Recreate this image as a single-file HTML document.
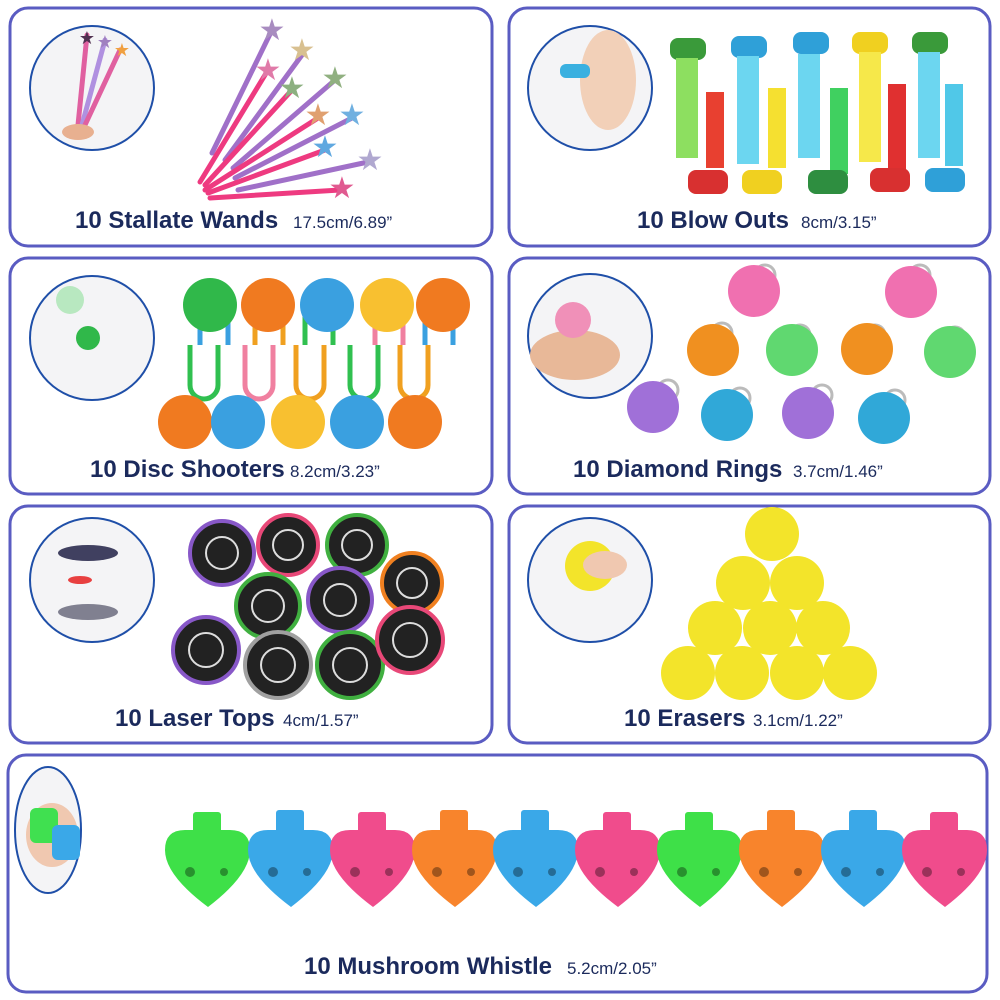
<!DOCTYPE html>
<html><head><style>
html,body{margin:0;padding:0;background:#fff;width:1000px;height:1000px;overflow:hidden}
svg{display:block}
.t{font-family:"Liberation Sans",sans-serif;font-weight:bold;fill:#1b2a5c;font-size:24px}
.s{font-family:"Liberation Sans",sans-serif;fill:#1b2a5c;font-size:17px}
</style></head><body>
<svg width="1000" height="1000" viewBox="0 0 1000 1000">
<g fill="#fff" stroke="#5a5cc2" stroke-width="3">
<rect x="10" y="8" width="482" height="238" rx="18"/>
<rect x="509" y="8" width="481" height="238" rx="18"/>
<rect x="10" y="258" width="482" height="236" rx="18"/>
<rect x="509" y="258" width="481" height="236" rx="18"/>
<rect x="10" y="506" width="482" height="237" rx="18"/>
<rect x="509" y="506" width="481" height="237" rx="18"/>
<rect x="8" y="755" width="979" height="237" rx="18"/>
</g>
<g fill="#f4f4f6" stroke="#1f4fa8" stroke-width="2">
<circle cx="92" cy="88" r="62"/>
<circle cx="590" cy="88" r="62"/>
<circle cx="92" cy="338" r="62"/>
<circle cx="590" cy="336" r="62"/>
<circle cx="92" cy="580" r="62"/>
<circle cx="590" cy="580" r="62"/>
<ellipse cx="48" cy="830" rx="33" ry="63"/>
</g>
<!-- wands -->
<g stroke-width="5" stroke-linecap="round">
<line x1="212" y1="153" x2="272" y2="30" stroke="#a070c8"/>
<line x1="200" y1="182" x2="268" y2="70" stroke="#ee3a80"/>
<line x1="225" y1="160" x2="302" y2="55" stroke="#a070c8"/>
<line x1="205" y1="185" x2="292" y2="90" stroke="#ee3a80"/>
<line x1="233" y1="168" x2="335" y2="80" stroke="#a070c8"/>
<line x1="205" y1="190" x2="318" y2="118" stroke="#ee3a80"/>
<line x1="235" y1="178" x2="352" y2="118" stroke="#a070c8"/>
<line x1="208" y1="193" x2="325" y2="150" stroke="#ee3a80"/>
<line x1="238" y1="190" x2="368" y2="162" stroke="#a070c8"/>
<line x1="210" y1="198" x2="340" y2="190" stroke="#ee3a80"/>
<line x1="78" y1="125" x2="87" y2="35" stroke="#e060a0"/>
<line x1="82" y1="125" x2="105" y2="40" stroke="#b090e0"/>
<line x1="85" y1="125" x2="120" y2="50" stroke="#e060a0"/>
</g>
<g font-size="30" text-anchor="middle" font-family="DejaVu Sans">
<text x="272" y="40" fill="#a88cc0">★</text><text x="302" y="60" fill="#d8c090">★</text>
<text x="268" y="80" fill="#e07aa8">★</text><text x="292" y="98" fill="#8cb080">★</text>
<text x="335" y="88" fill="#90b080">★</text><text x="318" y="125" fill="#e0a070">★</text>
<text x="352" y="125" fill="#70b0e0">★</text><text x="325" y="157" fill="#60a8e0">★</text>
<text x="370" y="170" fill="#b0a8d0">★</text><text x="342" y="198" fill="#e05a90">★</text>
<text x="87" y="44" font-size="18" fill="#503050">★</text><text x="105" y="48" font-size="18" fill="#a080c0">★</text><text x="122" y="56" font-size="18" fill="#f0a040">★</text>
</g>
<ellipse cx="78" cy="132" rx="16" ry="8" fill="#e8b090"/>
<text class="t" x="75" y="228">10 Stallate Wands</text><text class="s" x="293" y="228">17.5cm/6.89”</text>
<!-- blow outs -->
<g>
<rect x="670" y="38" width="36" height="22" rx="8" fill="#3a9a3a"/><rect x="731" y="36" width="36" height="22" rx="8" fill="#2fa0d8"/>
<rect x="793" y="32" width="36" height="22" rx="8" fill="#2fa0d8"/><rect x="852" y="32" width="36" height="22" rx="8" fill="#f0d020"/><rect x="912" y="32" width="36" height="22" rx="8" fill="#3a9a3a"/>
<rect x="676" y="58" width="22" height="100" fill="#8ddf60"/><rect x="737" y="56" width="22" height="108" fill="#6cd6f0"/>
<rect x="798" y="54" width="22" height="104" fill="#6cd6f0"/><rect x="859" y="52" width="22" height="110" fill="#f6e84a"/><rect x="918" y="52" width="22" height="106" fill="#6cd6f0"/>
<rect x="706" y="92" width="18" height="76" fill="#e84030"/><rect x="768" y="88" width="18" height="80" fill="#f5e030"/><rect x="830" y="88" width="18" height="86" fill="#40d060"/><rect x="888" y="84" width="18" height="86" fill="#e03030"/><rect x="945" y="84" width="18" height="82" fill="#50c8e8"/>
<rect x="688" y="170" width="40" height="24" rx="8" fill="#d83030"/><rect x="742" y="170" width="40" height="24" rx="8" fill="#f0d020"/><rect x="808" y="170" width="40" height="24" rx="8" fill="#2e8e40"/><rect x="870" y="168" width="40" height="24" rx="8" fill="#d83030"/><rect x="925" y="168" width="40" height="24" rx="8" fill="#2fa0d8"/>
<ellipse cx="608" cy="80" rx="28" ry="50" fill="#f2d0b8"/><rect x="560" y="64" width="30" height="14" rx="6" fill="#3ab0e0"/>
</g>
<text class="t" x="637" y="228">10 Blow Outs</text><text class="s" x="801" y="228">8cm/3.15”</text>
<!-- discs -->
<g>
<path d="M200 345 v-35 a14 14 0 0 1 28 0 v35" fill="none" stroke="#3aa0e0" stroke-width="5"/>
<path d="M255 345 v-35 a14 14 0 0 1 28 0 v35" fill="none" stroke="#f0a020" stroke-width="5"/>
<path d="M305 345 v-35 a14 14 0 0 1 28 0 v35" fill="none" stroke="#30c050" stroke-width="5"/>
<path d="M375 345 v-35 a14 14 0 0 1 28 0 v35" fill="none" stroke="#f080a0" stroke-width="5"/>
<path d="M425 345 v-35 a14 14 0 0 1 28 0 v35" fill="none" stroke="#3aa0e0" stroke-width="5"/>
<path d="M190 345 v40 a14 14 0 0 0 28 0 v-40" fill="none" stroke="#30c050" stroke-width="5"/>
<path d="M245 345 v40 a14 14 0 0 0 28 0 v-40" fill="none" stroke="#f080a0" stroke-width="5"/>
<path d="M296 345 v40 a14 14 0 0 0 28 0 v-40" fill="none" stroke="#f0a020" stroke-width="5"/>
<path d="M350 345 v40 a14 14 0 0 0 28 0 v-40" fill="none" stroke="#30c050" stroke-width="5"/>
<path d="M400 345 v40 a14 14 0 0 0 28 0 v-40" fill="none" stroke="#f0a020" stroke-width="5"/>
<circle cx="210" cy="305" r="27" fill="#30b84a"/><circle cx="268" cy="305" r="27" fill="#f07a20"/><circle cx="327" cy="305" r="27" fill="#3aa0e0"/><circle cx="387" cy="305" r="27" fill="#f8c030"/><circle cx="443" cy="305" r="27" fill="#f07a20"/>
<circle cx="185" cy="422" r="27" fill="#f07a20"/><circle cx="238" cy="422" r="27" fill="#3aa0e0"/><circle cx="298" cy="422" r="27" fill="#f8c030"/><circle cx="357" cy="422" r="27" fill="#3aa0e0"/><circle cx="415" cy="422" r="27" fill="#f07a20"/>
<circle cx="88" cy="338" r="12" fill="#30b84a"/><circle cx="70" cy="300" r="14" fill="#b8e8c0"/>
</g>
<text class="t" x="90" y="477">10 Disc Shooters</text><text class="s" x="290" y="477">8.2cm/3.23”</text>
<!-- rings -->
<g stroke="#bbb" stroke-width="3" fill="none">
<circle cx="765" cy="275" r="10"/><circle cx="920" cy="275" r="10"/><circle cx="722" cy="333" r="10"/><circle cx="800" cy="335" r="10"/><circle cx="875" cy="335" r="10"/><circle cx="955" cy="337" r="10"/><circle cx="668" cy="390" r="10"/><circle cx="740" cy="398" r="10"/><circle cx="822" cy="395" r="10"/><circle cx="895" cy="400" r="10"/>
</g>
<g>
<circle cx="754" cy="291" r="26" fill="#f070b0"/><circle cx="911" cy="292" r="26" fill="#f070b0"/>
<circle cx="713" cy="350" r="26" fill="#f09020"/><circle cx="792" cy="350" r="26" fill="#60d870"/><circle cx="867" cy="349" r="26" fill="#f09020"/><circle cx="950" cy="352" r="26" fill="#60d870"/>
<circle cx="653" cy="407" r="26" fill="#a070d8"/><circle cx="727" cy="415" r="26" fill="#30a8d8"/><circle cx="808" cy="413" r="26" fill="#a070d8"/><circle cx="884" cy="418" r="26" fill="#30a8d8"/>
<ellipse cx="575" cy="355" rx="45" ry="25" fill="#e8b898"/><circle cx="573" cy="320" r="18" fill="#f090b8"/>
</g>
<text class="t" x="573" y="477">10 Diamond Rings</text><text class="s" x="793" y="477">3.7cm/1.46”</text>
<!-- laser tops -->
<g stroke-width="4">
<circle cx="222" cy="553" r="32" fill="#222" stroke="#8858c8"/><circle cx="288" cy="545" r="30" fill="#222" stroke="#e84878"/><circle cx="357" cy="545" r="30" fill="#222" stroke="#40b040"/>
<circle cx="412" cy="583" r="30" fill="#222" stroke="#f08020"/><circle cx="268" cy="606" r="32" fill="#222" stroke="#40b040"/><circle cx="340" cy="600" r="32" fill="#222" stroke="#8858c8"/>
<circle cx="206" cy="650" r="33" fill="#222" stroke="#8858c8"/><circle cx="278" cy="665" r="33" fill="#222" stroke="#a0a0a0"/><circle cx="350" cy="665" r="33" fill="#222" stroke="#40b040"/><circle cx="410" cy="640" r="33" fill="#222" stroke="#e84878"/>
</g>
<g fill="none" stroke="#ddd" stroke-width="2">
<circle cx="222" cy="553" r="16"/><circle cx="288" cy="545" r="15"/><circle cx="357" cy="545" r="15"/><circle cx="412" cy="583" r="15"/><circle cx="268" cy="606" r="16"/><circle cx="340" cy="600" r="16"/><circle cx="206" cy="650" r="17"/><circle cx="278" cy="665" r="17"/><circle cx="350" cy="665" r="17"/><circle cx="410" cy="640" r="17"/>
</g>
<ellipse cx="88" cy="553" rx="30" ry="8" fill="#404060"/><ellipse cx="80" cy="580" rx="12" ry="4" fill="#e84040"/><ellipse cx="88" cy="612" rx="30" ry="8" fill="#808090"/>
<text class="t" x="115" y="726">10 Laser Tops</text><text class="s" x="283" y="726">4cm/1.57”</text>
<!-- erasers -->
<g fill="#f3e42a">
<circle cx="772" cy="534" r="27"/><circle cx="743" cy="583" r="27"/><circle cx="797" cy="583" r="27"/>
<circle cx="715" cy="628" r="27"/><circle cx="770" cy="628" r="27"/><circle cx="823" cy="628" r="27"/>
<circle cx="688" cy="673" r="27"/><circle cx="742" cy="673" r="27"/><circle cx="797" cy="673" r="27"/><circle cx="850" cy="673" r="27"/>
<circle cx="590" cy="566" r="25"/>
</g>
<ellipse cx="605" cy="565" rx="22" ry="14" fill="#f0c8b0"/>
<text class="t" x="624" y="726">10 Erasers</text><text class="s" x="753" y="726">3.1cm/1.22”</text>
<!-- whistles -->
<g>
<g fill="#3ee048"><rect x="193" y="812" width="28" height="40" rx="3"/><path d="M165 850 q0-20 20-20 h45 q20 0 20 20 q0 25-42 57 q-43-32-43-57z"/></g>
<g fill="#3aa8e8"><rect x="276" y="810" width="28" height="42" rx="3"/><path d="M248 850 q0-20 20-20 h45 q20 0 20 20 q0 25-42 57 q-43-32-43-57z"/></g>
<g fill="#f04c8c"><rect x="358" y="812" width="28" height="40" rx="3"/><path d="M330 850 q0-20 20-20 h45 q20 0 20 20 q0 25-42 57 q-43-32-43-57z"/></g>
<g fill="#f8842c"><rect x="440" y="810" width="28" height="42" rx="3"/><path d="M412 850 q0-20 20-20 h45 q20 0 20 20 q0 25-42 57 q-43-32-43-57z"/></g>
<g fill="#3aa8e8"><rect x="521" y="810" width="28" height="42" rx="3"/><path d="M493 850 q0-20 20-20 h45 q20 0 20 20 q0 25-42 57 q-43-32-43-57z"/></g>
<g fill="#f04c8c"><rect x="603" y="812" width="28" height="40" rx="3"/><path d="M575 850 q0-20 20-20 h45 q20 0 20 20 q0 25-42 57 q-43-32-43-57z"/></g>
<g fill="#3ee048"><rect x="685" y="812" width="28" height="40" rx="3"/><path d="M657 850 q0-20 20-20 h45 q20 0 20 20 q0 25-42 57 q-43-32-43-57z"/></g>
<g fill="#f8842c"><rect x="767" y="810" width="28" height="42" rx="3"/><path d="M739 850 q0-20 20-20 h45 q20 0 20 20 q0 25-42 57 q-43-32-43-57z"/></g>
<g fill="#3aa8e8"><rect x="849" y="810" width="28" height="42" rx="3"/><path d="M821 850 q0-20 20-20 h45 q20 0 20 20 q0 25-42 57 q-43-32-43-57z"/></g>
<g fill="#f04c8c"><rect x="930" y="812" width="28" height="40" rx="3"/><path d="M902 850 q0-20 20-20 h45 q20 0 20 20 q0 25-42 57 q-43-32-43-57z"/></g>
</g>
<g fill="#000" opacity="0.35">
<circle cx="190" cy="872" r="5"/><circle cx="224" cy="872" r="4"/><circle cx="273" cy="872" r="5"/><circle cx="307" cy="872" r="4"/><circle cx="355" cy="872" r="5"/><circle cx="389" cy="872" r="4"/><circle cx="437" cy="872" r="5"/><circle cx="471" cy="872" r="4"/><circle cx="518" cy="872" r="5"/><circle cx="552" cy="872" r="4"/><circle cx="600" cy="872" r="5"/><circle cx="634" cy="872" r="4"/><circle cx="682" cy="872" r="5"/><circle cx="716" cy="872" r="4"/><circle cx="764" cy="872" r="5"/><circle cx="798" cy="872" r="4"/><circle cx="846" cy="872" r="5"/><circle cx="880" cy="872" r="4"/><circle cx="927" cy="872" r="5"/><circle cx="961" cy="872" r="4"/>
</g>
<ellipse cx="52" cy="835" rx="26" ry="32" fill="#f0c8b0"/><rect x="30" y="808" width="28" height="35" rx="6" fill="#40e050"/><rect x="52" y="825" width="28" height="35" rx="6" fill="#3aa8e8"/>
<text class="t" x="304" y="974">10 Mushroom Whistle</text><text class="s" x="567" y="974">5.2cm/2.05”</text>
</svg>
</body></html>
